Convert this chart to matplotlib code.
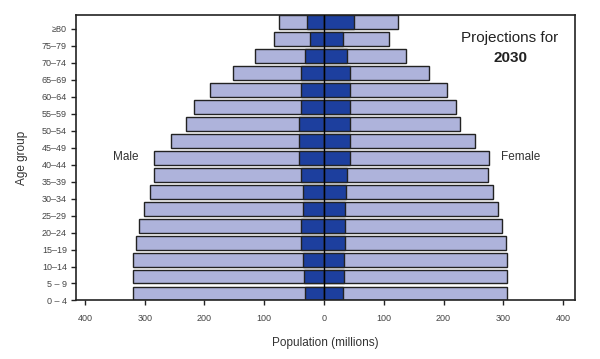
import matplotlib
matplotlib.use("Agg")
import matplotlib.pyplot as plt

plt.rcParams['font.family'] = ['Liberation Sans', 'DejaVu Sans']

age_groups = ["0 – 4", "5 – 9", "10–14", "15–19", "20–24", "25–29", "30–34", "35–39",
              "40–44", "45–49", "50–54", "55–59", "60–64", "65–69", "70–74", "75–79", "≥80"]
male_total = [319, 319, 319, 315, 309, 302, 292, 285, 285, 256, 231, 217, 191, 153, 116, 83, 76]
female_total = [307, 307, 307, 304, 298, 292, 282, 275, 276, 252, 227, 221, 206, 175, 137, 108, 123]
male_inner = [31, 33, 35, 38, 38, 35, 35, 39, 42, 42, 42, 39, 38, 38, 31, 24, 29]
female_inner = [31, 33, 33, 35, 35, 35, 36, 38, 43, 43, 43, 43, 43, 43, 38, 32, 51]

light = "#aeb3db"
dark = "#1d3f9e"
edge = "#222222"

fig = plt.figure(figsize=(6, 3.59), dpi=100)
ax = fig.add_axes([0.1267, 0.163, 0.8316, 0.795])

ys = list(range(len(age_groups)))
h = 0.8
ax.barh(ys, [-v for v in male_total], height=h, align='edge', color=light, edgecolor=edge, linewidth=1)
ax.barh(ys, female_total, height=h, align='edge', color=light, edgecolor=edge, linewidth=1)
ax.barh(ys, [-v for v in male_inner], height=h, align='edge', color=dark, edgecolor=edge, linewidth=1)
ax.barh(ys, female_inner, height=h, align='edge', color=dark, edgecolor=edge, linewidth=1)
ax.axvline(0, color='black', linewidth=1, zorder=5)

ax.set_xlim(-415, 420)
ax.set_ylim(0, 16.8)

xt = [-400, -300, -200, -100, 0, 100, 200, 300, 400]
ax.set_xticks(xt)
ax.set_xticklabels([str(abs(v)) for v in xt])
ax.set_yticks(ys)
ax.set_yticklabels(age_groups)

ax.tick_params(axis='both', direction='out', length=3.5, width=1, colors='#222222',
               labelcolor='#444444', labelsize=6.5)
ax.tick_params(axis='x', pad=6)
ax.tick_params(axis='y', pad=3)
for s in ax.spines.values():
    s.set_linewidth(1.2)
    s.set_color('#222222')

ax.set_xlabel("Population (millions)", fontsize=8.5, color='#333333', labelpad=10)
ax.set_ylabel("Age group", fontsize=8.5, color='#333333', labelpad=10)

ax.text(-331, 8.45, "Male", ha='center', va='center', fontsize=8.5, color='#333333')
ax.text(329, 8.45, "Female", ha='center', va='center', fontsize=8.5, color='#333333')
ax.text(0.87, 0.919, "Projections for", transform=ax.transAxes, ha='center', va='center',
        fontsize=11, color='#222222')
ax.text(0.87, 0.849, "2030", transform=ax.transAxes, ha='center', va='center',
        fontsize=11, fontweight='bold', color='#222222')

fig.savefig("out.png", dpi=100)
